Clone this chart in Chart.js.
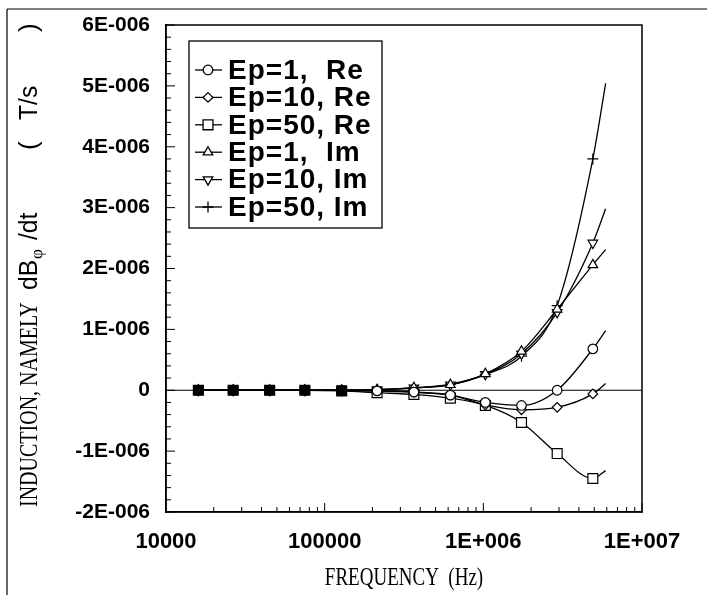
<!DOCTYPE html>
<html><head><meta charset="utf-8">
<script src="https://cdn.jsdelivr.net/npm/chart.js@4/dist/chart.umd.min.js"></script>
<style>html,body{margin:0;padding:0;background:#fff;}#wrap{width:707px;height:595px;}</style>
</head><body><div id="wrap"><canvas id="c" width="707" height="595"></canvas></div>
<script>
// ---- data ----
const frequencies = [1.6e4, 2.65e4, 4.5e4, 7.5e4, 1.28e5, 2.14e5, 3.65e5, 6.2e5, 1.03e6, 1.74e6, 2.92e6, 4.9e6, 5.9e6];
const seriesLabels = ['Ep=1,  Re', 'Ep=10, Re', 'Ep=50, Re', 'Ep=1,  Im', 'Ep=10, Im', 'Ep=50, Im'];
const ep1Re  = [0, 0, 0, 0, 0, -0.01e-6, -0.03e-6, -0.08e-6, -0.20e-6, -0.25e-6, 0.00e-6, 0.68e-6, 0.98e-6];
const ep10Re = [0, 0, 0, 0, 0, -0.01e-6, -0.03e-6, -0.08e-6, -0.24e-6, -0.32e-6, -0.28e-6, -0.06e-6, 0.11e-6];
const ep50Re = [0, 0, 0, 0, -0.01e-6, -0.04e-6, -0.07e-6, -0.13e-6, -0.25e-6, -0.53e-6, -1.04e-6, -1.45e-6, -1.32e-6];
const ep1Im  = [0, 0, 0, 0, 0, 0.01e-6, 0.04e-6, 0.09e-6, 0.27e-6, 0.64e-6, 1.33e-6, 2.06e-6, 2.31e-6];
const ep10Im = [0, 0, 0, 0, 0, 0.01e-6, 0.04e-6, 0.09e-6, 0.26e-6, 0.60e-6, 1.28e-6, 2.42e-6, 2.98e-6];
const ep50Im = [0, 0, 0, 0, 0, 0.01e-6, 0.04e-6, 0.10e-6, 0.26e-6, 0.56e-6, 1.39e-6, 3.80e-6, 5.04e-6];
const xTickValues = [1e4, 1e5, 1e6, 1e7];
const xTickLabels = ['10000', '100000', '1E+006', '1E+007'];
const yTickValues = [-2e-6, -1e-6, 0, 1e-6, 2e-6, 3e-6, 4e-6, 5e-6, 6e-6];
const yTickLabels = ['-2E-006', '-1E-006', '0', '1E-006', '2E-006', '3E-006', '4E-006', '5E-006', '6E-006'];
const xTitle = 'FREQUENCY  (Hz)';

// ---- styles ----
const allValues = [ep1Re, ep10Re, ep50Re, ep1Im, ep10Im, ep50Im];
const markerStyles = [
  {pointStyle: 'circle', rotation: 0, radius: 4.8},
  {pointStyle: 'rectRot', rotation: 0, radius: 4.8},
  {pointStyle: 'rect', rotation: 0, radius: 7},
  {pointStyle: 'triangle', rotation: 0, radius: 5.5},
  {pointStyle: 'triangle', rotation: 180, radius: 5.5},
  {pointStyle: 'cross', rotation: 0, radius: 5.5}
];
const lastIdx = frequencies.length - 1;
const SERIF = '"Liberation Serif", "Times New Roman", serif';
const SANS = '"Liberation Sans", Arial, sans-serif';

const datasets = allValues.map((vals, k) => ({
  label: seriesLabels[k],
  data: frequencies.map((f, i) => ({x: f, y: vals[i]})),
  borderColor: '#000',
  borderWidth: 1.3,
  fill: false,
  cubicInterpolationMode: 'monotone',
  pointStyle: markerStyles[k].pointStyle,
  pointRotation: markerStyles[k].rotation,
  pointRadius: c => (c.dataIndex === lastIdx ? 0 : markerStyles[k].radius),
  pointBorderColor: '#000',
  pointBorderWidth: 1.2,
  pointBackgroundColor: c => (c.dataIndex < 5 ? '#000' : '#fff')
}));

function seg(ctx, x1, y1, x2, y2) { ctx.beginPath(); ctx.moveTo(x1, y1); ctx.lineTo(x2, y2); ctx.stroke(); }

function drawMarker(ctx, st, x, y) {
  if (window.Chart && Chart.helpers && Chart.helpers.drawPoint) {
    Chart.helpers.drawPoint(ctx, {pointStyle: st.pointStyle, rotation: st.rotation, radius: st.radius, borderWidth: 1.2}, x, y);
  }
}

// text squeezed along its baseline (the scanned fonts are condensed)
function condensedText(ctx, text, x, y, font, squeeze) {
  ctx.save();
  ctx.font = font;
  ctx.translate(x, y);
  ctx.scale(squeeze, 1);
  ctx.fillText(text, 0, 0);
  const w = ctx.measureText(text).width * squeeze;
  ctx.restore();
  return w;
}

const decorPlugin = {
  id: 'decor',
  beforeDraw(chart) {
    const ctx = chart.ctx;
    ctx.save();
    ctx.fillStyle = '#fff';
    ctx.fillRect(0, 0, chart.width, chart.height);
    ctx.strokeStyle = '#000';
    ctx.lineWidth = 1.2;
    seg(ctx, 7, 9, 707, 9);
    seg(ctx, 7, 9, 7, 595);
    ctx.restore();
  },
  beforeDatasetsDraw(chart) {
    const {ctx, chartArea: a, scales: {x, y}} = chart;
    ctx.save();
    ctx.strokeStyle = '#000';
    ctx.lineWidth = 1;
    const y0 = y.getPixelForValue(0);
    seg(ctx, a.left, y0, a.right, y0);
    ctx.lineWidth = 1.5;
    ctx.strokeRect(a.left, a.top, a.right - a.left, a.bottom - a.top);
    ctx.lineWidth = 1;
    for (let k = -20; k <= 60; k += 2) {
      const py = y.getPixelForValue(k * 1e-7);
      const len = (k % 10 === 0) ? 9 : 5;
      seg(ctx, a.left, py, a.left + len, py);
    }
    for (let d = 4; d <= 7; d++) {
      for (let m = 1; m <= 9; m++) {
        const v = m * Math.pow(10, d);
        if (v > x.max * 1.0001) continue;
        const px = x.getPixelForValue(v);
        const len = (m === 1) ? 9 : 5;
        seg(ctx, px, a.bottom, px, a.bottom - len);
      }
    }
    ctx.restore();
  },
  afterDraw(chart) {
    const {ctx, chartArea: a} = chart;
    ctx.save();
    // legend box
    const bx = 189, by = 41, bw = 193, bh = 187;
    ctx.fillStyle = '#fff';
    ctx.fillRect(bx, by, bw, bh);
    ctx.strokeStyle = '#000';
    ctx.lineWidth = 1.3;
    ctx.strokeRect(bx, by, bw, bh);
    ctx.textBaseline = 'middle';
    ctx.textAlign = 'left';
    for (let k = 0; k < seriesLabels.length; k++) {
      const ry = 70 + 27.4 * k;
      ctx.strokeStyle = '#000';
      ctx.lineWidth = 1.3;
      seg(ctx, 195, ry, 222, ry);
      ctx.fillStyle = '#fff';
      drawMarker(ctx, markerStyles[k], 208, ry);
      ctx.fillStyle = '#000';
      ctx.font = 'bold 28px ' + SANS;
      try { ctx.letterSpacing = '1px'; } catch (e) {}
      ctx.fillText(seriesLabels[k], 228, ry + 1);
      try { ctx.letterSpacing = '0px'; } catch (e) {}
    }
    // x title
    ctx.fillStyle = '#000';
    ctx.textAlign = 'left';
    ctx.textBaseline = 'middle';
    ctx.font = '25px ' + SERIF;
    const tw = ctx.measureText(xTitle).width * 0.76;
    condensedText(ctx, xTitle, (a.left + a.right) / 2 - tw / 2, 578, '25px ' + SERIF, 0.76);
    // y title (rotated, with subscript phi); in the rotated frame x' = -screenY
    ctx.translate(30, 0);
    ctx.rotate(-Math.PI / 2);
    condensedText(ctx, 'INDUCTION, NAMELY', -507, 0, '25px ' + SERIF, 0.8);
    condensedText(ctx, 'dB', -290, 0, '26px ' + SANS, 0.95);
    condensedText(ctx, '\u03C6', -259, 8, '17px ' + SERIF, 1);
    condensedText(ctx, '/dt', -240, 0, '26px ' + SANS, 0.95);
    condensedText(ctx, '(', -150, 0, '26px ' + SANS, 1);
    condensedText(ctx, 'T/s', -120, 0, '26px ' + SANS, 0.95);
    condensedText(ctx, ')', -32, 0, '26px ' + SANS, 1);
    ctx.restore();
  }
};

new Chart(document.getElementById('c').getContext('2d'), {
  type: 'line',
  data: {datasets},
  options: {
    responsive: false,
    animation: false,
    devicePixelRatio: 1,
    layout: {padding: {left: 0, right: 65, top: 25, bottom: 0}},
    plugins: {legend: {display: false}, tooltip: {enabled: false}},
    scales: {
      x: {
        type: 'logarithmic', min: 1e4, max: 1e7,
        afterBuildTicks: s => { s.ticks = xTickValues.map(v => ({value: v})); },
        afterFit: s => { s.height = 83; },
        ticks: {
          autoSkip: false, maxRotation: 0, padding: 9, color: '#000',
          font: {family: SANS, weight: 'bold', size: 22},
          callback: v => { const i = xTickValues.indexOf(v); return i >= 0 ? xTickLabels[i] : ''; }
        },
        grid: {display: false},
        border: {display: true, color: '#000', width: 1.5}
      },
      y: {
        type: 'linear', min: -2e-6, max: 6e-6,
        afterBuildTicks: s => { s.ticks = yTickValues.map(v => ({value: v})); },
        afterFit: s => { s.width = 166; },
        ticks: {
          autoSkip: false, padding: 8, color: '#000',
          font: {family: SANS, weight: 'bold', size: 21},
          callback: v => { const i = yTickValues.findIndex(t => Math.abs(t - v) < 1e-12); return i >= 0 ? yTickLabels[i] : ''; }
        },
        grid: {display: false},
        border: {display: true, color: '#000', width: 1.5}
      }
    }
  },
  plugins: [decorPlugin]
});
</script></body></html>
